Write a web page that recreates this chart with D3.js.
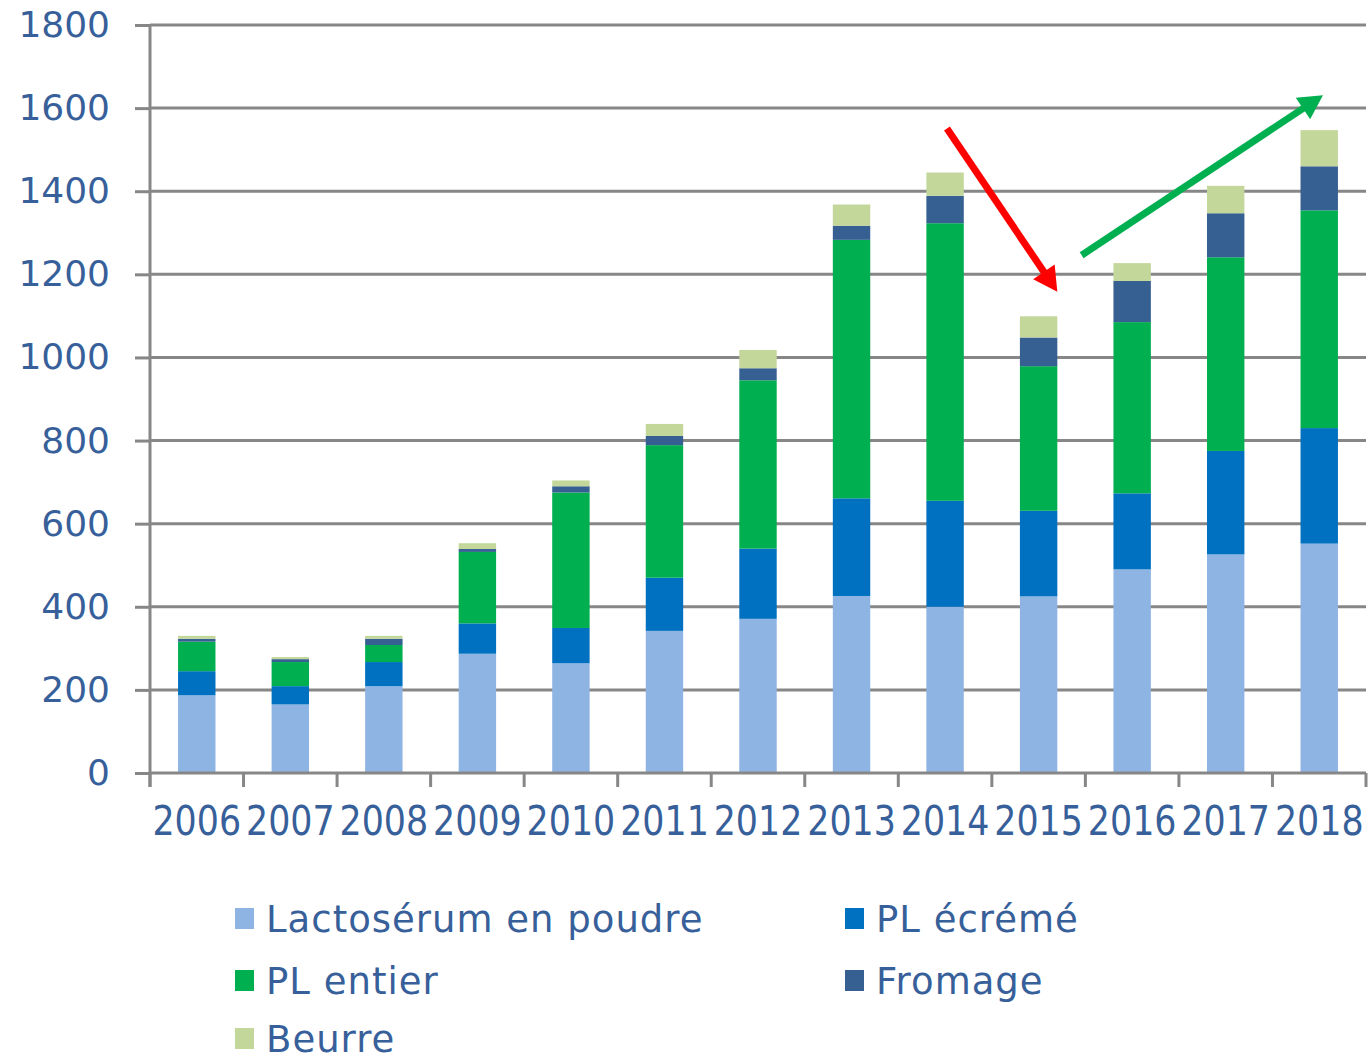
<!DOCTYPE html>
<html lang="fr">
<head>
<meta charset="UTF-8" />
<script src="https://cdnjs.cloudflare.com/ajax/libs/d3/7.8.5/d3.min.js"></script>
<title>Exportations</title>
<style>
  html, body { margin: 0; padding: 0; background: #fff; }
  svg { display: block; }
</style>
</head>
<body>
<div class="chart"></div>
<script>
// données
const years = ['2006','2007','2008','2009','2010','2011','2012','2013','2014','2015','2016','2017','2018']
const seriesNames = ['Lactosérum en poudre','PL écrémé','PL entier','Fromage','Beurre']
const lactoserum = [187,165,209,287,264,342,371,426,400,425,490,526,552]
const plEcreme   = [58, 44, 58, 73, 85, 128,169,235,255,206,183,249,278]
const plEntier   = [71, 58, 41, 172,326,319,405,622,668,348,412,466,524]
const fromage    = [7,  7,  15, 7,  15, 22, 29, 34, 66, 69, 99, 106,106]
const beurre     = [7,  5,  7,  14, 14, 29, 44, 51, 56, 51, 43, 66, 87]
const yTicks = [0,200,400,600,800,1000,1200,1400,1600,1800]
const colors = ['#8eb4e3','#0070c0','#00b050','#366092','#c4d79b']
// flèches : [année, position dans la bande, valeur]
const arrows = [
  { from: ['2014', 0.52, 1551], to: ['2015', 0.70, 1158], color: '#ff0000' },
  { from: ['2015', 0.96, 1246], to: ['2018', 0.54, 1631], color: '#00b050' }
]

const svgWidth = 1368, svgHeight = 1061
const mLeft = 150, mRight = 1366, mTop = 25, mBottom = 773
const textColor = '#37609a', gridColor = '#878787'

const svg = d3.select('.chart').append('svg')
  .attr('width', svgWidth).attr('height', svgHeight)

const x = d3.scaleBand().domain(years).range([mLeft, mRight])
  .paddingInner(0.6).paddingOuter(0.3)
const y = d3.scaleLinear().domain([0, 1800]).range([mBottom, mTop])

// grille
svg.append('g').selectAll('line').data(yTicks.slice(1)).join('line')
  .attr('x1', mLeft).attr('x2', mRight)
  .attr('y1', d => y(d)).attr('y2', d => y(d))
  .attr('stroke', gridColor).attr('stroke-width', 3)

// axe y
const yAxis = svg.append('g').attr('transform', `translate(${mLeft},0)`)
  .call(d3.axisLeft(y).tickValues(yTicks).tickFormat(d3.format('d'))
    .tickSize(15).tickPadding(25).tickSizeOuter(0))
yAxis.select('.domain').remove()
yAxis.selectAll('line').attr('stroke', gridColor).attr('stroke-width', 3)
yAxis.selectAll('text').attr('fill', textColor)
  .style('font-family', '"DejaVu Sans", Verdana, sans-serif').style('font-size', '36px')
svg.append('line').attr('x1', mLeft).attr('x2', mLeft).attr('y1', mTop).attr('y2', mBottom + 14)
  .attr('stroke', gridColor).attr('stroke-width', 3)

// barres empilées
const table = years.map((yr, i) => ({
  year: yr,
  'Lactosérum en poudre': lactoserum[i],
  'PL écrémé': plEcreme[i],
  'PL entier': plEntier[i],
  'Fromage': fromage[i],
  'Beurre': beurre[i]
}))
const stacked = d3.stack().keys(seriesNames)(table)
svg.append('g').selectAll('g').data(stacked).join('g')
  .attr('fill', (d, i) => colors[i])
  .selectAll('rect').data(d => d).join('rect')
  .attr('x', d => x(d.data.year))
  .attr('width', x.bandwidth())
  .attr('y', d => y(d[1]))
  .attr('height', d => y(d[0]) - y(d[1]))

// axe x
const step = x.step()
const off = (step - x.bandwidth()) / 2
const bounds = years.map(d => x(d) - off).concat([x(years[years.length - 1]) + x.bandwidth() + off])
svg.append('line').attr('x1', mLeft).attr('x2', mRight).attr('y1', mBottom).attr('y2', mBottom)
  .attr('stroke', gridColor).attr('stroke-width', 3)
svg.append('g').selectAll('line').data(bounds).join('line')
  .attr('x1', d => d).attr('x2', d => d).attr('y1', mBottom).attr('y2', mBottom + 14)
  .attr('stroke', gridColor).attr('stroke-width', 3)
const xAxis = svg.append('g').attr('transform', `translate(0,${mBottom})`)
  .call(d3.axisBottom(x).tickSize(0))
xAxis.select('.domain').remove()
xAxis.selectAll('text')
  .attr('y', 62).attr('dy', 0)
  .attr('transform', 'scale(0.85,1)')
  .attr('fill', textColor)
  .style('font-family', '"DejaVu Sans", Verdana, sans-serif').style('font-size', '41px')

// flèches
const pt = p => [x(p[0]) - off + p[1] * step, y(p[2])]
arrows.forEach(a => {
  const [x0, y0] = pt(a.from), [x1, y1] = pt(a.to)
  const dx = x1 - x0, dy = y1 - y0, len = Math.hypot(dx, dy)
  const ux = dx / len, uy = dy / len
  const hl = 24, hw = 13
  const bx = x1 - ux * hl, by = y1 - uy * hl
  svg.append('line').attr('x1', x0).attr('y1', y0).attr('x2', bx + ux * 2).attr('y2', by + uy * 2)
    .attr('stroke', a.color).attr('stroke-width', 7)
  svg.append('polygon')
    .attr('points', [[x1, y1], [bx - uy * hw, by + ux * hw], [bx + uy * hw, by - ux * hw]].map(p => p.join(',')).join(' '))
    .attr('fill', a.color)
})

// légende
const legendPos = [[235, 918], [845, 918], [235, 980], [845, 980], [235, 1038]]
const legend = svg.append('g').selectAll('g').data(seriesNames).join('g')
  .attr('transform', (d, i) => `translate(${legendPos[i][0]},${legendPos[i][1]})`)
legend.append('rect').attr('x', 0).attr('y', -10).attr('width', 19).attr('height', 21)
  .attr('fill', (d, i) => colors[i])
legend.append('text').attr('x', 31).attr('y', 14)
  .attr('fill', textColor)
  .style('font-family', '"DejaVu Sans", Verdana, sans-serif').style('font-size', '37px')
  .style('letter-spacing', '1px')
  .text(d => d)
</script>
</body>
</html>
